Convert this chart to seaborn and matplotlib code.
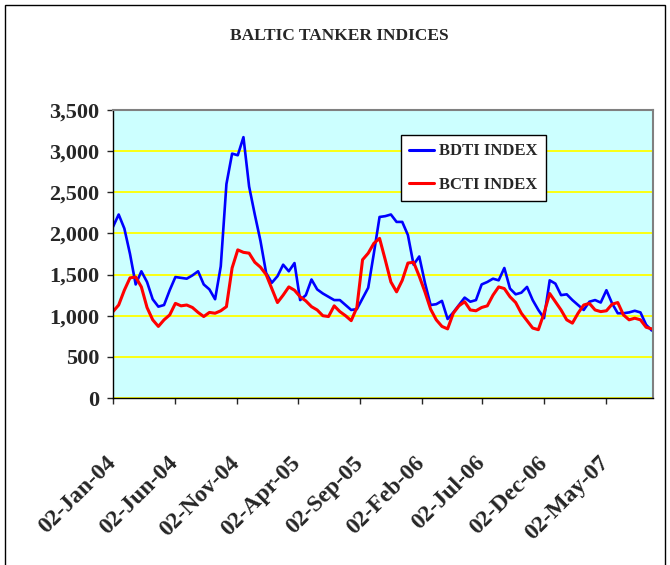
import matplotlib
matplotlib.use("Agg")
import matplotlib.pyplot as plt
import matplotlib.ticker as mticker
from matplotlib.patches import Rectangle
import pandas as pd
import seaborn as sns

# fortnightly readings of the two indices, starting 02-Jan-04
sample_dates = pd.date_range("2004-01-02", periods=96, freq="14D")

bdti_values = [
    2080, 2230, 2060, 1750, 1380, 1540, 1410, 1200, 1110, 1130, 1310, 1470,
    1460, 1450, 1490, 1540, 1380, 1320, 1200, 1600, 2600, 2970, 2950, 3170,
    2570, 2230, 1910, 1520, 1400, 1480, 1620, 1540, 1640, 1190, 1250, 1440,
    1320, 1270, 1230, 1190, 1190, 1130, 1070, 1080, 1210, 1340, 1760, 2200,
    2210, 2230, 2140, 2140, 1980, 1620, 1720, 1400, 1130, 1140, 1180, 960,
    1040, 1130, 1220, 1170, 1190, 1380, 1410, 1450, 1430, 1580, 1330, 1260,
    1280, 1350, 1190, 1070, 970, 1430, 1390, 1250, 1260, 1190, 1130, 1070,
    1170, 1190, 1160, 1310, 1150, 1030, 1030, 1040, 1060, 1040, 890, 820,
]

bcti_values = [
    1050, 1130, 1310, 1460, 1470, 1350, 1100, 950, 870, 950, 1010, 1150,
    1120, 1130, 1100, 1040, 990, 1040, 1030, 1060, 1110, 1580, 1800, 1770,
    1760, 1650, 1590, 1500, 1330, 1160, 1250, 1350, 1310, 1230, 1180, 1110,
    1070, 1000, 990, 1120, 1050, 1000, 940, 1100, 1680, 1760, 1880, 1940,
    1680, 1410, 1290, 1430, 1640, 1650, 1480, 1290, 1080, 950, 870, 840,
    1030, 1120, 1170, 1070, 1060, 1100, 1120, 1250, 1350, 1330, 1230, 1160,
    1030, 940, 850, 830, 1030, 1270, 1170, 1070, 950, 910, 1030, 1130,
    1150, 1070, 1050, 1060, 1140, 1160, 1010, 950, 970, 950, 860, 840,
]

tick_dates = pd.to_datetime([
    "2004-01-02", "2004-06-02", "2004-11-02", "2005-04-02", "2005-09-02",
    "2006-02-02", "2006-07-02", "2006-12-02", "2007-05-02",
])
tick_labels = [
    "02-Jan-04", "02-Jun-04", "02-Nov-04", "02-Apr-05", "02-Sep-05",
    "02-Feb-06", "02-Jul-06", "02-Dec-06", "02-May-07",
]

sns.set_style("white")
plt.rcParams["font.family"] = ["Liberation Serif", "DejaVu Serif"]
plt.rcParams["font.weight"] = "bold"

bdti = pd.DataFrame({"date": sample_dates, "value": bdti_values})
bcti = pd.DataFrame({"date": sample_dates, "value": bcti_values})

fig = plt.figure(figsize=(6.7, 5.65), dpi=100)
ax = fig.add_axes([113 / 670, 1 - 398 / 565, 540 / 670, 288 / 565])
ax.set_facecolor("#CCFFFF")

sns.lineplot(data=bdti, x="date", y="value", color="#0000FF", linewidth=1.9,
             label="BDTI INDEX", ax=ax)
sns.lineplot(data=bcti, x="date", y="value", color="#FF0000", linewidth=2.2,
             label="BCTI INDEX", ax=ax)

ax.set_ylim(0, 3500)
ax.set_yticks(range(0, 3501, 500))
ax.yaxis.set_major_formatter(mticker.StrMethodFormatter("{x:,.0f}"))
ax.set_xlim(pd.Timestamp("2004-01-02"), pd.Timestamp("2007-08-27"))
ax.set_xticks(tick_dates)
ax.set_xticklabels(tick_labels, rotation=45, ha="right", va="center",
                   rotation_mode="anchor")
ax.set_xlabel("")
ax.set_ylabel("")

ax.yaxis.grid(True, color="#FFFF00", linewidth=1.3)
ax.xaxis.grid(False)
ax.set_axisbelow(True)

ax.tick_params(axis="y", direction="out", length=4, width=1, pad=6,
               labelsize=16, left=True)
ax.tick_params(axis="x", direction="out", length=4.5, width=1, pad=40,
               labelsize=17, bottom=True)

for side in ["left", "bottom"]:
    ax.spines[side].set_color("black")
    ax.spines[side].set_linewidth(1)
for side in ["top", "right"]:
    ax.spines[side].set_color("#808080")
    ax.spines[side].set_linewidth(1.5)

leg = ax.legend(loc="upper left", bbox_to_anchor=(0.533, 0.913),
                borderaxespad=0, frameon=True, fancybox=False,
                edgecolor="black", facecolor="white", framealpha=1,
                fontsize=12, handlelength=1.5, handletextpad=0.3,
                labelspacing=1.05, borderpad=0.5)
leg.get_frame().set_linewidth(1)
for line in leg.get_lines():
    line.set_linewidth(2.2)

fig.text(0.507, 1 - 36 / 565, "BALTIC TANKER INDICES", ha="center",
         va="center", fontsize=12.5, fontweight="bold")

fig.patches.append(Rectangle((5 / 670, -0.05), 660 / 670, 1 - 5 / 565 + 0.05,
                             transform=fig.transFigure, fill=False,
                             edgecolor="black", linewidth=1))

fig.savefig("out.png", dpi=100)
